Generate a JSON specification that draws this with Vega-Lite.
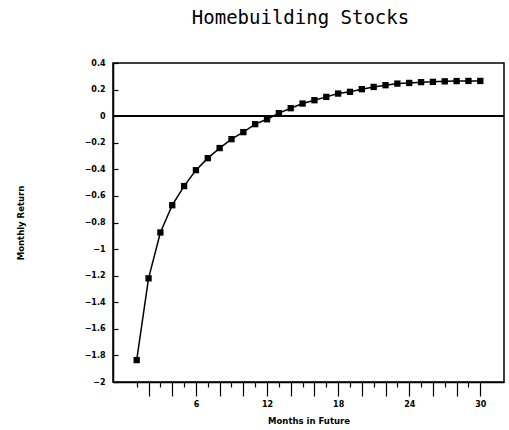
{
  "$schema": "https://vega.github.io/schema/vega-lite/v6.json",
  "autosize": "none",
  "width": 391,
  "height": 319,
  "padding": {"left": 113, "top": 63, "right": 5, "bottom": 48},
  "background": "white",
  "config": {
    "view": {"stroke": "black", "strokeWidth": 1.5},
    "axis": {
      "labelFont": "DejaVu Sans",
      "labelFontWeight": "bold",
      "labelFontSize": 8,
      "labelColor": "black",
      "titleFont": "DejaVu Sans",
      "titleFontWeight": "bold",
      "titleFontSize": 8.5,
      "titleColor": "black",
      "domainColor": "black",
      "domainWidth": 1.5,
      "tickColor": "black",
      "tickWidth": 1.2,
      "grid": false
    }
  },
  "title": {
    "text": "Homebuilding Stocks",
    "font": "DejaVu Sans Mono",
    "fontSize": 19,
    "fontWeight": "normal",
    "color": "black",
    "anchor": "middle",
    "dx": -8,
    "offset": 31
  },
  "data": {
    "values": [
      {"month": 1, "ret": -1.835},
      {"month": 2, "ret": -1.22},
      {"month": 3, "ret": -0.875},
      {"month": 4, "ret": -0.67},
      {"month": 5, "ret": -0.526},
      {"month": 6, "ret": -0.406},
      {"month": 7, "ret": -0.316},
      {"month": 8, "ret": -0.24},
      {"month": 9, "ret": -0.173},
      {"month": 10, "ret": -0.12},
      {"month": 11, "ret": -0.06},
      {"month": 12, "ret": -0.023},
      {"month": 13, "ret": 0.023},
      {"month": 14, "ret": 0.06},
      {"month": 15, "ret": 0.095},
      {"month": 16, "ret": 0.12},
      {"month": 17, "ret": 0.145},
      {"month": 18, "ret": 0.17},
      {"month": 19, "ret": 0.183},
      {"month": 20, "ret": 0.203},
      {"month": 21, "ret": 0.22},
      {"month": 22, "ret": 0.233},
      {"month": 23, "ret": 0.245},
      {"month": 24, "ret": 0.25},
      {"month": 25, "ret": 0.256},
      {"month": 26, "ret": 0.258},
      {"month": 27, "ret": 0.262},
      {"month": 28, "ret": 0.264},
      {"month": 29, "ret": 0.265},
      {"month": 30, "ret": 0.265}
    ]
  },
  "encoding": {
    "x": {
      "field": "month",
      "type": "quantitative",
      "scale": {"domain": [-1, 32], "nice": false, "zero": false},
      "axis": {
        "title": "Months in Future",
        "values": [1,2,3,4,5,6,7,8,9,10,11,12,13,14,15,16,17,18,19,20,21,22,23,24,25,26,27,28,29,30],
        "tickSize": {"condition": {"test": "datum.value % 2 === 0", "value": 14}, "value": 5},
        "labelExpr": "datum.value % 6 === 0 ? datum.label : ''",
        "labelPadding": 4,
        "titlePadding": 8
      }
    },
    "y": {
      "field": "ret",
      "type": "quantitative",
      "scale": {"domain": [-2, 0.4], "nice": false, "zero": false},
      "axis": {
        "title": "Monthly Return",
        "values": [-2, -1.8, -1.6, -1.4, -1.2, -1, -0.8, -0.6, -0.4, -0.2, 0, 0.2, 0.4],
        "format": "~g",
        "tickSize": -5,
        "labelPadding": 13,
        "titlePadding": 59
      }
    }
  },
  "layer": [
    {
      "mark": {"type": "rule", "color": "black", "strokeWidth": 1.5},
      "encoding": {"y": {"datum": 0}, "x": null}
    },
    {
      "mark": {"type": "line", "color": "black", "strokeWidth": 1.5}
    },
    {
      "mark": {"type": "point", "shape": "square", "filled": true, "color": "black", "size": 40, "opacity": 1}
    }
  ]
}
